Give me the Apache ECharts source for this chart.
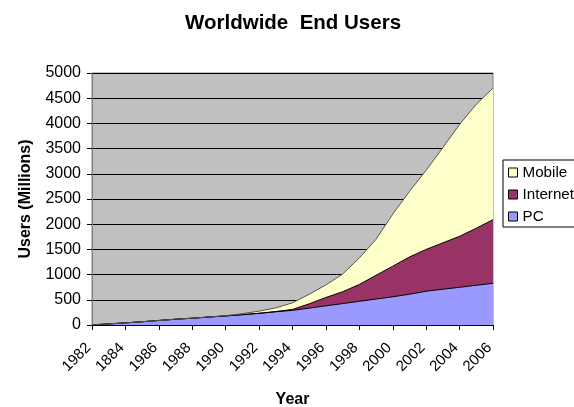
<!DOCTYPE html>
<html>
<head>
<meta charset="utf-8">
<script src="https://cdn.jsdelivr.net/npm/echarts@6/dist/echarts.min.js"></script>
<style>html,body{margin:0;padding:0;background:#fff}#c{width:574px;height:407px}</style>
</head>
<body>
<div id="c"></div>
<script>
var years = ['1982','1983','1984','1985','1986','1987','1988','1989','1990','1991','1992','1993','1994','1995','1996','1997','1998','1999','2000','2001','2002','2003','2004','2005','2006'];
// tick labels as printed in the reference (note "1884")
var tickLabels = {'1982':'1982','1984':'1884','1986':'1986','1988':'1988','1990':'1990','1992':'1992','1994':'1994','1996':'1996','1998':'1998','2000':'2000','2002':'2002','2004':'2004','2006':'2006'};
var pc       = [3,22,42,65,90,115,135,158,180,205,232,262,290,335,380,425,470,515,560,610,670,710,748,788,827];
var internet = [0,0,0,0,0,0,0,0,0,0,0,5,20,85,166,235,335,471,607,740,830,920,1012,1132,1263];
var mobile   = [0,0,0,0,0,0,0,2,5,20,43,73,130,190,250,350,525,714,1033,1300,1570,1890,2220,2460,2610];

var chart = echarts.init(document.getElementById('c'), null, {renderer:'canvas'});
var font = 'Liberation Sans, Arial, sans-serif';
function ser(name, data, color, lineColor){
  return {
    name:name, type:'line', stack:'total', data:data, showSymbol:false, symbol:'none',
    itemStyle:{color:color},
    lineStyle:{color:lineColor, width:1},
    areaStyle:{color:color, opacity:1},
    emphasis:{disabled:true}, animation:false
  };
}
chart.setOption({
  animation:false,
  title:{text:'Worldwide  End Users', left:180, top:8,
    textStyle:{fontFamily:font, fontSize:20.5, fontWeight:'bold', color:'#000'}},
  legend:{
    data:['Mobile','Internet','PC'], orient:'vertical', left:503, top:160,
    icon:'rect', itemWidth:9, itemHeight:9, itemGap:7,
    backgroundColor:'#fff', borderColor:'#000', borderWidth:1, borderRadius:0,
    padding:[5,20,3,5],
    itemStyle:{borderColor:'#000', borderWidth:1},
    textStyle:{fontFamily:font, fontSize:15.2, color:'#000'}
  },
  grid:{left:92, right:81, top:73, bottom:82, outerBoundsMode:'none', containLabel:false,
    show:true, backgroundColor:'#C0C0C0', borderColor:'#808080', borderWidth:1},
  xAxis:{
    type:'category', data:years, boundaryGap:false,
    name:'Year', nameLocation:'middle', nameGap:67,
    nameTextStyle:{fontFamily:font, fontSize:16, fontWeight:'bold', color:'#000'},
    axisLine:{lineStyle:{color:'#000', width:1}},
    axisTick:{show:true, interval:1, length:5, lineStyle:{color:'#000'}},
    axisLabel:{interval:1, rotate:45, margin:17, padding:[0,5,0,0], fontFamily:font, fontSize:15, color:'#000',
      formatter:function(v){return tickLabels[v]||v;}},
    splitLine:{show:false}
  },
  yAxis:{
    type:'value', min:0, max:5000, interval:500,
    name:'Users (Millions)', nameLocation:'middle', nameGap:58,
    nameTextStyle:{fontFamily:font, fontSize:16, fontWeight:'bold', color:'#000'},
    axisLine:{show:true, lineStyle:{color:'#808080', width:1}},
    axisTick:{show:true, length:5, lineStyle:{color:'#000'}},
    axisLabel:{margin:11, fontFamily:font, fontSize:16, color:'#000',
      formatter:function(v){return String(v);}},
    splitLine:{show:true, lineStyle:{color:'#000', width:1}}
  },
  series:[
    ser('PC', pc, '#9999FF', '#000'),
    ser('Internet', internet, '#993366', '#000'),
    ser('Mobile', mobile, '#FFFFCC', '#555')
  ]
});
</script>
</body>
</html>
